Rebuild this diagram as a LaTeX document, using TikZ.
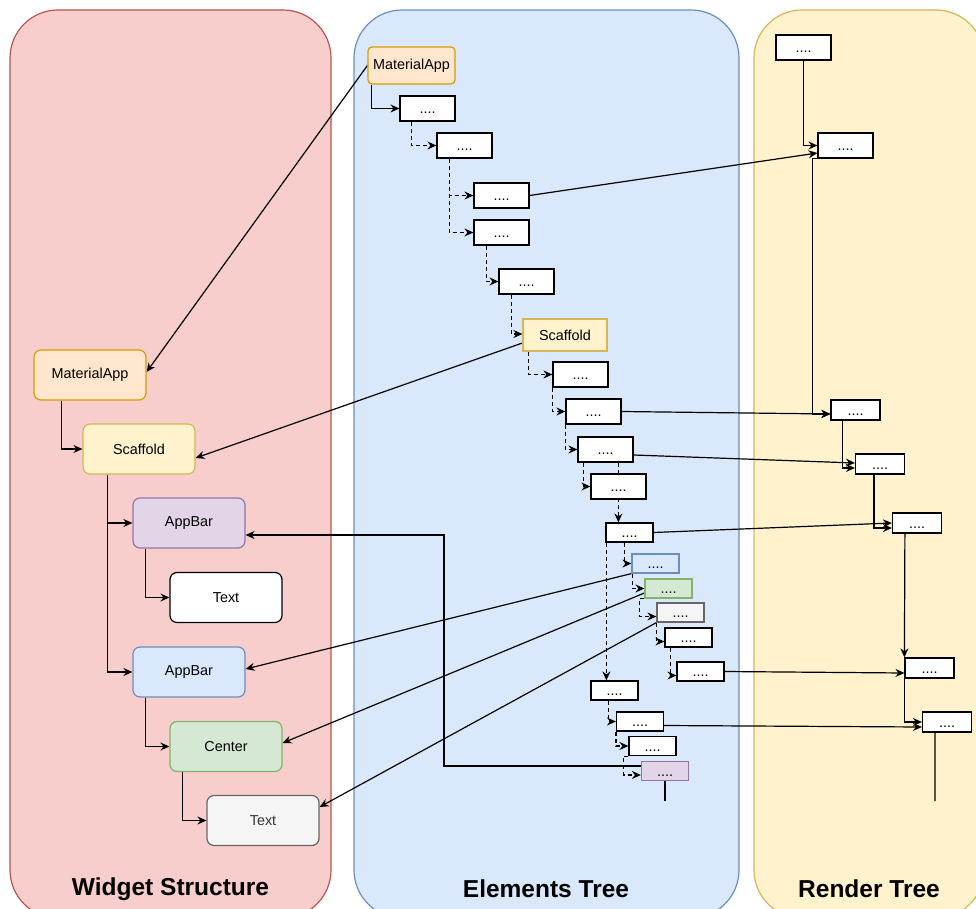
\documentclass[tikz,border=0pt]{standalone}
\usepackage{fontspec}
\setmainfont{Liberation Sans}
\usetikzlibrary{arrows.meta,calc}
\definecolor{redfill}{HTML}{F8CECC}
\definecolor{redline}{HTML}{B85450}
\definecolor{bluefill}{HTML}{DAE8FC}
\definecolor{blueline}{HTML}{6C8EBF}
\definecolor{yelfill}{HTML}{FFF2CC}
\definecolor{yelline}{HTML}{D6B656}
\definecolor{orgfill}{HTML}{FFE6CC}
\definecolor{orgline}{HTML}{D79B00}
\definecolor{purfill}{HTML}{E1D5E7}
\definecolor{purline}{HTML}{9673A6}
\definecolor{grnfill}{HTML}{D5E8D4}
\definecolor{grnline}{HTML}{82B366}
\definecolor{gryfill}{HTML}{F5F5F5}
\definecolor{gryline}{HTML}{666666}
\definecolor{grytext}{HTML}{333333}
\pgfdeclarelayer{lanes}
\pgfdeclarelayer{wires}
\pgfsetlayers{lanes,wires,main}
\tikzset{
  lbl/.style={font=\fontsize{14.4}{16}\selectfont},
  widget/.style={lbl, draw, rounded corners=7pt, minimum width=112pt, minimum height=50pt, inner sep=0pt, line width=1.2pt},
  named/.style={lbl, draw, inner sep=0pt, line width=1.2pt},
  elem/.style={lbl, draw, minimum width=55pt, minimum height=25pt, inner sep=0pt, line width=1.2pt, fill=white, text height=13pt, text depth=3pt},
  elemsm/.style={elem, minimum width=47pt, minimum height=19pt},
  rendsm/.style={elem, minimum width=49pt, minimum height=20pt},
  lane/.style={line width=1.2pt, rounded corners=48pt},
  title/.style={font=\fontsize{24.5}{28}\selectfont\bfseries},
  link/.style={line width=1.2pt, -{Stealth[length=9pt,width=8pt,inset=3pt]}},
  plain/.style={line width=1.2pt},
  child/.style={link, dash pattern=on 4pt off 3pt},
}
\begin{document}
\begin{tikzpicture}[x=1pt,y=-1pt]
\useasboundingbox (0,0) rectangle (976,909);

% swimlanes
\begin{pgfonlayer}{lanes}
  \clip (0,0) rectangle (976,909);
  \draw[lane, fill=redfill, draw=redline] (10,10) rectangle (331,918);
  \draw[lane, fill=bluefill, draw=blueline] (354,10) rectangle (739,918);
  \draw[lane, fill=yelfill, draw=yelline] (754,10) rectangle (984,918);
\end{pgfonlayer}

\node[title] (t1) at (170.5,889) {Widget Structure};
\node[title] (t2) at (546,889) {Elements Tree};
\node[title] (t3) at (869,889) {Render Tree};

% widget structure
\node[widget, fill=orgfill, draw=orgline] (wma) at (90,375) {MaterialApp};
\node[widget, fill=yelfill, draw=yelline] (wsc) at (139,449) {Scaffold};
\node[widget, fill=purfill, draw=purline] (wab1) at (189,523) {AppBar};
\node[widget, fill=white, draw=black] (wtx1) at (226,597.5) {Text};
\node[widget, fill=bluefill, draw=blueline] (wab2) at (189,672) {AppBar};
\node[widget, fill=grnfill, draw=grnline] (wce) at (226,746.5) {Center};
\node[widget, fill=gryfill, draw=gryline, text=grytext] (wtx2) at (263,820.5) {Text};

% elements tree
\node[named, fill=orgfill, draw=orgline, rounded corners=4pt, minimum width=87pt, minimum height=37pt] (ema) at (411.5,65.5) {MaterialApp};
\node[elem] (e1) at (427.5,108.5) {....};
\node[elem] (e2) at (464.5,145.5) {....};
\node[elem] (e3) at (501.5,195.5) {....};
\node[elem] (e4) at (501.5,232.5) {....};
\node[elem] (e5) at (526.5,281.5) {....};
\node[named, fill=yelfill, draw=yelline, minimum width=84pt, minimum height=32pt] (esc) at (565,335) {Scaffold};
\node[elem] (e6) at (580.5,374.5) {....};
\node[elem] (e7) at (593.5,411.5) {....};
\node[elem] (e8) at (605.5,449.5) {....};
\node[elem] (e9) at (618.5,486.5) {....};
\node[elemsm] (e10) at (629.5,532.5) {....};
\node[elemsm, fill=bluefill, draw=blueline] (eb) at (655.5,563.5) {....};
\node[elemsm, fill=grnfill, draw=grnline] (eg) at (668.5,588.5) {....};
\node[elemsm, fill=gryfill, draw=gryline] (egr) at (680.5,612.5) {....};
\node[elemsm] (e11) at (688.5,637.5) {....};
\node[elemsm] (e12) at (700.5,671.5) {....};
\node[elemsm] (e15) at (614.5,690.5) {....};
\node[elemsm] (e16) at (640,721.5) {....};
\node[elemsm] (e17) at (652.5,746) {....};
\node[elemsm, fill=purfill, draw=purline] (e18) at (665,771) {....};
\coordinate (e18end) at (665,801);
\coordinate (bend) at (444,650);

% render tree
\node[elem] (r1) at (803.5,47.5) {....};
\node[elem] (r2) at (845.5,145.5) {....};
\node[rendsm] (r3) at (855.5,410) {....};
\node[rendsm] (r4) at (880,464) {....};
\node[rendsm] (r5) at (917,523) {....};
\node[rendsm] (r6) at (929.5,668) {....};
\node[rendsm] (r7) at (947,722) {....};
\coordinate (r7end) at (935,801);

\begin{pgfonlayer}{wires}
  % widget hierarchy
  \draw[link] ([xshift=28pt]wma.south west) |- (wsc.west);
  \draw[link] ([xshift=25pt]wsc.south west) |- (wab1.west);
  \draw[link] ([xshift=25pt]wsc.south west) |- (wab2.west);
  \draw[link] ([xshift=13pt]wab1.south west) |- (wtx1.west);
  \draw[link] ([xshift=13pt]wab2.south west) |- (wce.west);
  \draw[link] ([xshift=13pt]wce.south west) |- (wtx2.west);

  % element hierarchy
  \draw[link] ([xshift=4pt]ema.south west) |- (e1.west);
  \draw[child] ([xshift=12pt]e1.south west) |- (e2.west);
  \draw[child] ([xshift=13pt]e2.south west) |- (e3.west);
  \draw[child] ([xshift=13pt]e2.south west) |- (e4.west);
  \draw[child] ([xshift=13pt]e4.south west) |- (e5.west);
  \draw[child] ([xshift=13pt]e5.south west) |- ([yshift=1pt]esc.west);
  \draw[child] ([xshift=6pt]esc.south west) |- (e6.west);
  \draw[child] (e6.south west) |- (e7.west);
  \draw[child] (e7.south west) |- (e8.west);
  \draw[child] ([xshift=6pt]e8.south west) |- (e9.west);
  \draw[child] ([xshift=41pt]e8.south west) -- ([xshift=13pt]e10.north west);
  \draw[child] ([xshift=1pt]e10.south west) -- ([xshift=16pt]e15.north west);
  \draw[child] ([xshift=19pt]e10.south west) |- (eb.west);
  \draw[child] ([xshift=1pt]eb.south west) |- (eg.west);
  \draw[child] (eg.south west) -- ++(-5,0) |- ([yshift=-4pt]egr.west);
  \draw[child] (egr.south west) |- ([yshift=-4pt]e11.west);
  \draw[child] ([xshift=6pt]e11.south west) |- ([yshift=-4pt]e12.west);
  \draw[child] ([xshift=18pt]e15.south west) |- (e16.west);
  \draw[child] (e16.south west) |- (e17.west);
  \draw[child] (e17.south west) -- ++(-5,0) |- ([yshift=-4pt]e18.west);
  \draw[plain] (e18.south) -- (e18end);

  % elements to widgets
  \draw[link] (ema.west) -- ([yshift=3pt]wma.east);
  \draw[link] ([yshift=-8pt]esc.west) -- ([yshift=-9pt]wsc.east);
  \draw[link] (eb.south west) -- ([yshift=3pt]wab2.east);
  \draw[link] ([yshift=-4.5pt]eg.west) -- ([yshift=3.5pt]wce.east);
  \draw[link] (egr.south west) -- ([yshift=13.5pt]wtx2.east);
  \draw[link] ([yshift=5pt]e18.west) -| (bend) |- ([yshift=-12pt]wab1.east);

  % elements to render objects
  \draw[link] (e3.east) -- ([yshift=-7.5pt]r2.west);
  \draw[link] (e7.east) -- ([yshift=-4pt]r3.west);
  \draw[link] ([yshift=-5.5pt]e8.east) -- ([yshift=1pt]r4.west);
  \draw[link] (e10.east) -- (r5.west);
  \draw[link] (e12.east) -- ([yshift=-5pt]r6.west);
  \draw[link] ([yshift=-4pt]e16.east) -- ([yshift=-5pt]r7.west);

  % render hierarchy
  \draw[link] ([xshift=28pt]r1.south west) |- (r2.west);
  \draw[link] (r2.south west) -- ++(-5,0) |- ([yshift=-4pt]r3.west);
  \draw[link] ([xshift=12pt]r3.south west) |- ([yshift=-4pt]r4.west);
  \draw[link] ([xshift=19pt]r4.south west) |- ([yshift=-5pt]r5.west);
  \draw[link] ([xshift=13pt]r5.south west) -- (r6.north west);
  \draw[link] (r6.south west) |- (r7.west);
  \draw[plain] ([xshift=13pt]r7.south west) -- (r7end);
\end{pgfonlayer}
\end{tikzpicture}
\end{document}
